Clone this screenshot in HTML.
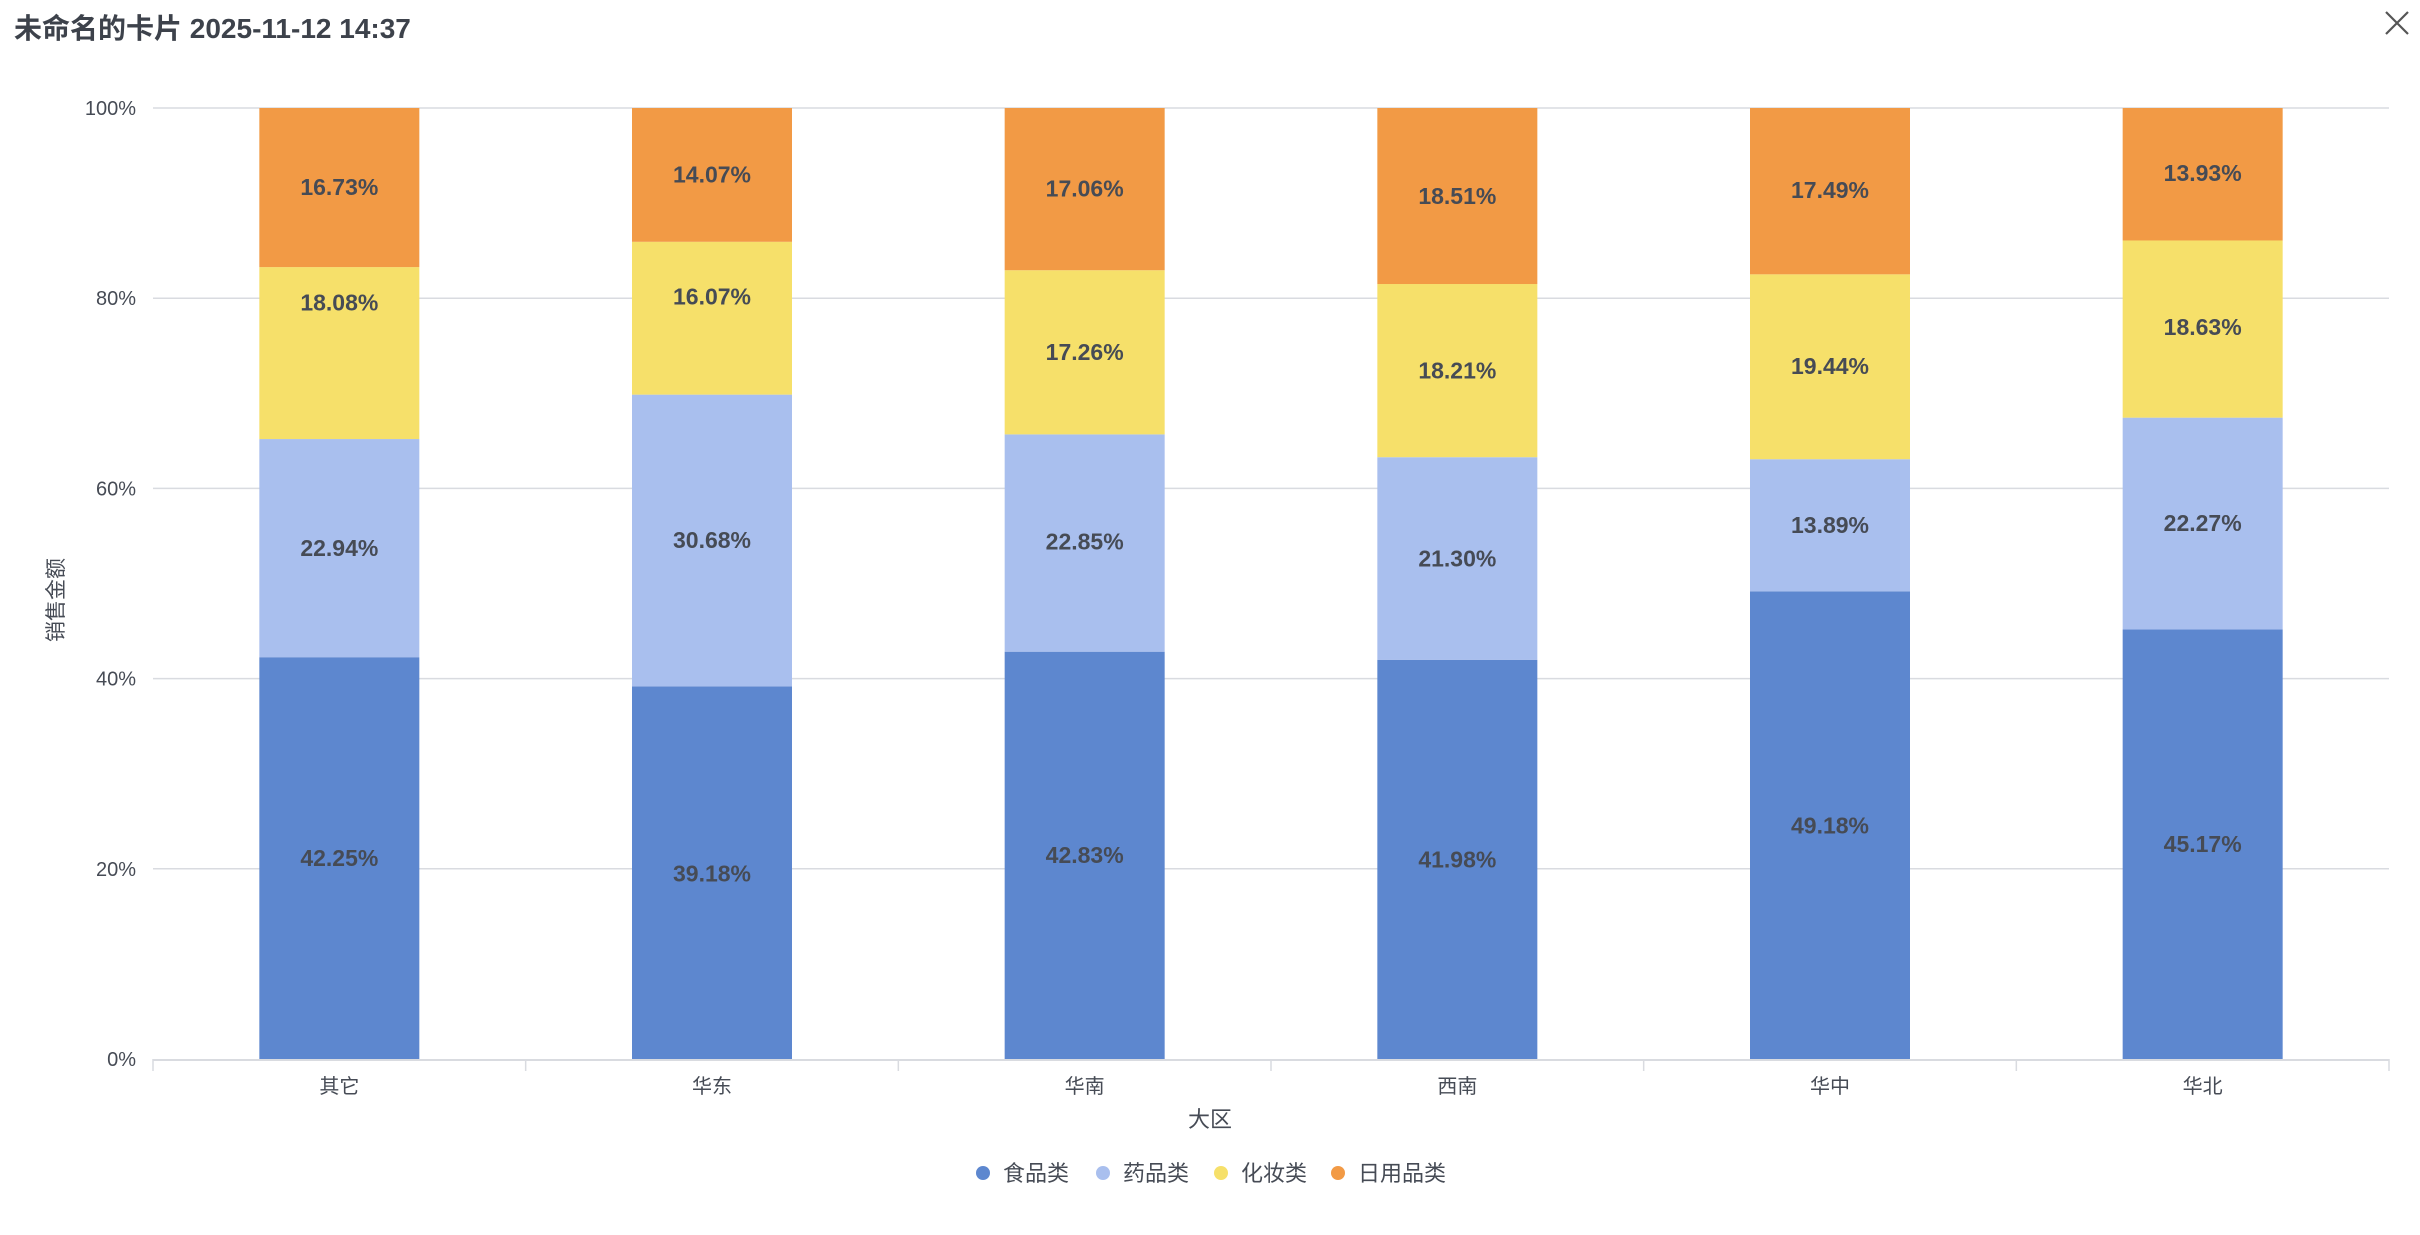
<!DOCTYPE html>
<html><head><meta charset="utf-8"><style>
body{margin:0;background:#fff;width:2420px;height:1230px;overflow:hidden;font-family:"Liberation Sans","Noto Sans CJK SC",sans-serif}
</style></head><body>
<svg id="s" width="2420" height="1230" xmlns="http://www.w3.org/2000/svg" font-family="Liberation Sans, Noto Sans CJK SC, sans-serif">
<text x="14" y="38" font-size="28" font-weight="bold" fill="#3d424b">未命名的卡片 2025-11-12 14:37</text>
<path d="M2386 12 L2408 34 M2408 12 L2386 34" stroke="#555" stroke-width="2.2"/>
<text transform="translate(63,600) rotate(-90)" font-size="21" fill="#464b55" text-anchor="middle">销售金额</text>
<text x="1210" y="1127" font-size="22" fill="#464b55" text-anchor="middle">大区</text>
<g font-size="22" fill="#464b55">
<circle cx="983" cy="1173" r="7" fill="#5d87cf"/><text x="1003" y="1181">食品类</text>
<circle cx="1103" cy="1173" r="7" fill="#a9bfee"/><text x="1123" y="1181">药品类</text>
<circle cx="1221" cy="1173" r="7" fill="#f6e06a"/><text x="1241" y="1181">化妆类</text>
<circle cx="1338" cy="1173" r="7" fill="#f29a45"/><text x="1358" y="1181">日用品类</text>
</g>
</svg>
<script>
var s=document.getElementById('s'),ns='http://www.w3.org/2000/svg';
function el(t,a,txt){var e=document.createElementNS(ns,t);for(var k in a)e.setAttribute(k,a[k]);if(txt)e.textContent=txt;s.appendChild(e);return e;}
var L=153,R=2389,T=108,B=1059,H=B-T;
for(var i=0;i<=5;i++){var y=B-H*i/5;if(i>0)el('line',{x1:L,x2:R,y1:y,y2:y,stroke:'#d9dbe0','stroke-width':1.5});
el('text',{x:136,y:y+7,'font-size':20,fill:'#464b55','text-anchor':'end'},(i*20)+'%');}
el('line',{x1:L,x2:R,y1:B+1,y2:B+1,stroke:'#d9dbe0','stroke-width':2});
var cats=['其它','华东','华南','西南','华中','华北'];
var d=[[42.25,22.94,18.08,16.73],[39.18,30.68,16.07,14.07],[42.83,22.85,17.26,17.06],[41.98,21.30,18.21,18.51],[49.18,13.89,19.44,17.49],[45.17,22.27,18.63,13.93]];
var ly=[[556,355,196,121],[566,350,192,113],[554,351,228,122],[557,362,240,127],[535,340,237,123],[547,339,212,112]];
var cols=['#5d87cf','#a9bfee','#f6e06a','#f29a45'];
var w=(R-L)/6;
for(var i=0;i<=6;i++){var x=L+w*i;el('line',{x1:x,x2:x,y1:B,y2:B+12,stroke:'#d9dbe0','stroke-width':1.5});}
for(var c=0;c<6;c++){var cx=L+w*(c+.5),bx=cx-80,acc=0;
el('text',{x:cx,y:1093,'font-size':20,fill:'#464b55','text-anchor':'middle'},cats[c]);
var tot=d[c].reduce(function(a,b){return a+b},0);
for(var k=0;k<4;k++){var v=d[c][k]/tot*100;var y1=B-H*(acc+v)/100,y0=B-H*acc/100;
el('rect',{x:bx,y:y1,width:160,height:y0-y1,fill:cols[k]});
acc+=v;}
for(var k=0;k<4;k++){el('text',{x:cx,y:ly[c][k]*1.5434+8,'font-size':23,'font-weight':'bold',fill:'#464b55','text-anchor':'middle'},d[c][k].toFixed(2)+'%');}}
</script>
</body></html>
